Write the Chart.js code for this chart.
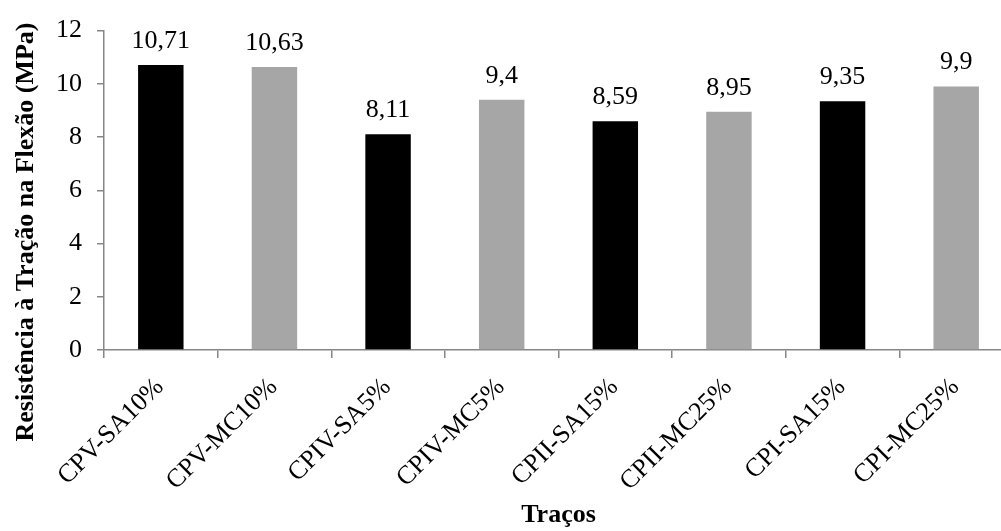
<!DOCTYPE html>
<html>
<head>
<meta charset="utf-8">
<script src="https://cdn.jsdelivr.net/npm/chart.js@4"></script>
<style>
  html, body { margin: 0; padding: 0; background: #ffffff; overflow: hidden; }
  #wrap { width: 1013px; height: 531px; }
</style>
</head>
<body>
<div id="wrap"><canvas id="c" width="1013" height="531"></canvas></div>
<script>
// Flexural tensile strength per mix
const categories = ['CPV-SA10%', 'CPV-MC10%', 'CPIV-SA5%', 'CPIV-MC5%', 'CPII-SA15%', 'CPII-MC25%', 'CPI-SA15%', 'CPI-MC25%'];
const strengths = [10.71, 10.63, 8.11, 9.4, 8.59, 8.95, 9.35, 9.9];
const barColors = ['#000000', '#a6a6a6', '#000000', '#a6a6a6', '#000000', '#a6a6a6', '#000000', '#a6a6a6'];
const yTicks = [0, 2, 4, 6, 8, 10, 12];
const yTitle = 'Resistência à Tração na Flexão (MPa)';
const xTitle = 'Traços';

const serif = "'Liberation Serif', 'Times New Roman', serif";
const axisGray = '#868686';

// Draws each bar's value above it, with a decimal comma
const valueLabels = {
  id: 'valueLabels',
  afterDatasetsDraw(chart) {
    const ctx = chart.ctx;
    const meta = chart.getDatasetMeta(0);
    ctx.save();
    ctx.font = '26px ' + serif;
    ctx.fillStyle = '#000000';
    ctx.textAlign = 'center';
    ctx.textBaseline = 'alphabetic';
    meta.data.forEach((bar, i) => {
      const txt = String(strengths[i]).replace('.', ',');
      ctx.fillText(txt, bar.x, bar.y - 17);
    });
    ctx.restore();
  }
};

// Vertical axis title, centred a little below the plot's middle
const yAxisTitle = {
  id: 'yAxisTitle',
  afterDraw(chart) {
    const ctx = chart.ctx;
    ctx.save();
    ctx.font = 'bold 26px ' + serif;
    ctx.fillStyle = '#000000';
    ctx.textAlign = 'center';
    ctx.textBaseline = 'middle';
    ctx.translate(26, 232);
    ctx.rotate(-Math.PI / 2);
    ctx.fillText(yTitle, 0, 0);
    ctx.restore();
  }
};

new Chart(document.getElementById('c'), {
  type: 'bar',
  data: {
    labels: categories,
    datasets: [{
      data: strengths,
      backgroundColor: barColors,
      borderWidth: 0,
      categoryPercentage: 1.0,
      barPercentage: 0.4
    }]
  },
  options: {
    responsive: false,
    animation: false,
    devicePixelRatio: 1,
    layout: { padding: { top: 24, right: 0, left: 0, bottom: 0 } },
    plugins: {
      legend: { display: false },
      tooltip: { enabled: false }
    },
    scales: {
      x: {
        grid: {
          display: true,
          drawOnChartArea: false,
          drawTicks: true,
          tickLength: 8,
          color: axisGray,
          lineWidth: 1.5
        },
        border: { color: axisGray, width: 1.5 },
        ticks: {
          color: '#000000',
          font: { family: serif, size: 26 },
          minRotation: 45,
          maxRotation: 45,
          autoSkip: false,
          padding: 14,
          labelOffset: -1
        },
        title: {
          display: true,
          text: xTitle,
          color: '#000000',
          font: { family: serif, size: 26, weight: 'bold' },
          padding: { top: 0, bottom: 0 }
        },
        afterFit(scale) { scale.height = 181; }
      },
      y: {
        min: 0,
        max: 12,
        afterBuildTicks(scale) { scale.ticks = yTicks.map(v => ({ value: v })); },
        grid: {
          display: true,
          drawOnChartArea: false,
          drawTicks: true,
          tickLength: 7,
          color: axisGray,
          lineWidth: 1.5
        },
        border: { color: axisGray, width: 1.5 },
        ticks: {
          color: '#000000',
          font: { family: serif, size: 26 },
          padding: 15
        },
        title: { display: false },
        afterFit(scale) { scale.width = 104; }
      }
    }
  },
  plugins: [valueLabels, yAxisTitle]
});
</script>
</body>
</html>
